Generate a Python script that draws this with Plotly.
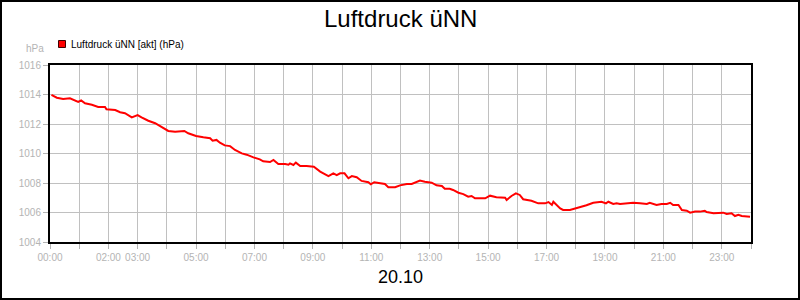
import plotly.graph_objects as go

# ---- data ----
times = ["00:03","00:14","00:27","00:41","00:58","01:04","01:12","01:26","01:39","01:53",
         "01:56","02:14","02:24","02:34","02:48","03:00","03:08","03:22","03:36","03:49",
         "04:03","04:17","04:31","04:36","04:44","05:00","05:15","05:29","05:34","05:42",
         "05:49","05:59","06:10","06:20","06:34","06:44","06:58","07:11","07:18","07:32",
         "07:39","07:49","08:03","08:10","08:13","08:20","08:25","08:34","08:47","09:02",
         "09:15","09:32","09:42","09:49","09:56","10:05","10:13","10:20","10:30","10:40",
         "10:54","10:59","11:06","11:21","11:28","11:35","11:49","11:59","12:13","12:23",
         "12:30","12:40","12:50","13:04","13:14","13:25","13:31","13:41","13:48","13:59",
         "14:09","14:19","14:26","14:33","14:43","14:54","15:04","15:17","15:35","15:38",
         "15:48","15:57","16:05","16:12","16:29","16:43","16:57","17:04","17:11","17:14",
         "17:28","17:34","17:48","17:58","18:08","18:22","18:36","18:53","19:02","19:07",
         "19:17","19:24","19:31","19:45","19:58","20:12","20:26","20:32","20:46","20:56",
         "21:07","21:14","21:20","21:31","21:38","21:48","21:55","22:05","22:15","22:25",
         "22:29","22:43","22:56","23:03","23:10","23:20","23:27","23:34","23:41","23:48",
         "23:58"]
pressure = [1013.97,1013.78,1013.70,1013.74,1013.50,1013.60,1013.40,1013.30,1013.15,1013.15,
            1013.00,1012.95,1012.80,1012.73,1012.45,1012.60,1012.45,1012.22,1012.05,1011.82,
            1011.53,1011.48,1011.48,1011.53,1011.37,1011.19,1011.10,1011.03,1010.87,1010.92,
            1010.73,1010.55,1010.50,1010.24,1010.01,1009.92,1009.74,1009.60,1009.47,1009.42,
            1009.56,1009.29,1009.29,1009.24,1009.33,1009.22,1009.38,1009.15,1009.15,1009.10,
            1008.77,1008.47,1008.66,1008.54,1008.66,1008.66,1008.32,1008.47,1008.39,1008.14,
            1008.05,1007.91,1008.05,1007.98,1007.93,1007.71,1007.71,1007.84,1007.93,1007.93,
            1008.02,1008.16,1008.09,1008.02,1007.84,1007.80,1007.61,1007.61,1007.53,1007.34,
            1007.25,1007.07,1007.12,1006.96,1006.97,1006.96,1007.14,1007.03,1007.00,1006.85,
            1007.12,1007.30,1007.19,1006.90,1006.80,1006.62,1006.62,1006.71,1006.51,1006.73,
            1006.28,1006.17,1006.17,1006.26,1006.35,1006.49,1006.66,1006.73,1006.62,1006.73,
            1006.58,1006.62,1006.58,1006.62,1006.66,1006.62,1006.58,1006.66,1006.51,1006.58,
            1006.58,1006.66,1006.51,1006.51,1006.17,1006.12,1005.99,1006.06,1006.06,1006.12,
            1006.03,1005.95,1005.95,1005.99,1005.90,1005.95,1005.76,1005.85,1005.76,1005.76,
            1005.72]

hour_ticks = list(range(0, 25))
labeled_hours = [0, 2, 3, 5, 7, 9, 11, 13, 15, 17, 19, 21, 23]
y_ticks = [1004, 1006, 1008, 1010, 1012, 1014, 1016]

title_text = "Luftdruck üNN"
legend_text = "Luftdruck üNN [akt] (hPa)"
unit_text = "hPa"
date_text = "20.10"

# ---- build ----
def to_hours(t):
    h, m = t.split(":")
    return int(h) + int(m) / 60.0

x_hours = [to_hours(t) for t in times]
tick_text = [("%02d:00" % h) if h in labeled_hours else "" for h in hour_ticks]

FONT = "Liberation Sans, Arial, sans-serif"
GRAY = "#b4b4b4"

fig = go.Figure()
fig.add_trace(go.Scatter(x=x_hours, y=pressure, mode="lines",
                         line=dict(color="#ff0000", width=2),
                         showlegend=False))

W, H = 800, 300
L, R, T, B = 50, 49, 65, 58
pw, ph = W - L - R, H - T - B

def px_x(px):
    return (px - L) / pw

def px_y(py):
    return (H - B - py) / ph

fig.update_layout(
    width=W, height=H,
    margin=dict(l=L, r=R, t=T, b=B),
    paper_bgcolor="white", plot_bgcolor="white",
    font=dict(family=FONT, size=10, color="black"),
    xaxis=dict(range=[0, 24], tickmode="array", tickvals=hour_ticks, ticktext=tick_text,
               showgrid=True, gridcolor="#c0c0c0", gridwidth=1,
               ticks="outside", ticklen=5, tickcolor=GRAY, tickwidth=1,
               tickfont=dict(family=FONT, size=10, color=GRAY),
               showline=True, linecolor="black", linewidth=2, mirror=True,
               zeroline=False, fixedrange=True),
    yaxis=dict(range=[1004, 1016], tickmode="array", tickvals=y_ticks,
               ticktext=[str(v) for v in y_ticks],
               showgrid=True, gridcolor="#c0c0c0", gridwidth=1,
               ticks="outside", ticklen=5, tickcolor=GRAY, tickwidth=1,
               tickfont=dict(family=FONT, size=10, color=GRAY),
               showline=True, linecolor="black", linewidth=2, mirror=True,
               zeroline=False, fixedrange=True),
)

# outer border
fig.add_shape(type="rect", xref="paper", yref="paper",
              x0=px_x(1), x1=px_x(799), y0=px_y(299), y1=px_y(1),
              line=dict(color="black", width=2), fillcolor="rgba(0,0,0,0)", layer="above")

# legend swatch
fig.add_shape(type="rect", xref="paper", yref="paper",
              x0=px_x(58.5), x1=px_x(65.5), y0=px_y(47.5), y1=px_y(40.5),
              line=dict(color="#400000", width=1), fillcolor="#ff0000")

fig.add_annotation(text=legend_text, xref="paper", yref="paper",
                   x=px_x(69), y=px_y(44), xanchor="left", yanchor="middle",
                   showarrow=False, font=dict(family=FONT, size=10, color="black"))

fig.add_annotation(text=unit_text, xref="paper", yref="paper",
                   x=px_x(46), y=px_y(48.5), xanchor="right", yanchor="middle",
                   showarrow=False, font=dict(family=FONT, size=10, color=GRAY))

fig.add_annotation(text=title_text, xref="paper", yref="paper",
                   x=0.5 - (L - R) / 2 / pw, y=px_y(18.5), xanchor="center", yanchor="middle",
                   showarrow=False, font=dict(family=FONT, size=24, color="black"))

fig.add_annotation(text=date_text, xref="paper", yref="paper",
                   x=0.5 - (L - R) / 2 / pw, y=px_y(276.5), xanchor="center", yanchor="middle",
                   showarrow=False, font=dict(family=FONT, size=18, color="black"))

fig.write_html("out.html")
